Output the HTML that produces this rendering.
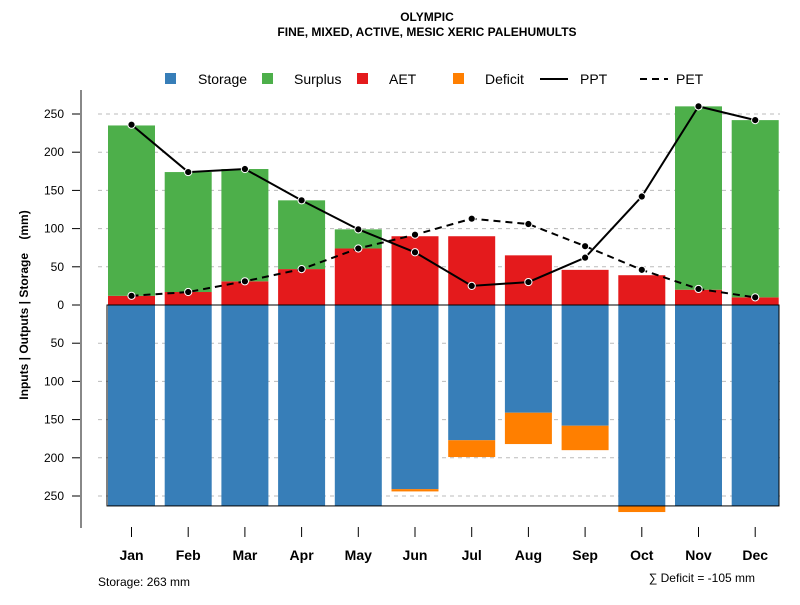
<!DOCTYPE html>
<html><head><meta charset="utf-8"><style>
body{margin:0;background:#fff}
svg{font-family:"Liberation Sans",Arial,sans-serif}
</style></head><body>
<svg id="c" width="800" height="600" xmlns="http://www.w3.org/2000/svg">
<text x="427" y="21" text-anchor="middle" font-size="12" font-weight="bold">OLYMPIC</text>
<text x="427" y="36" text-anchor="middle" font-size="12" font-weight="bold">FINE, MIXED, ACTIVE, MESIC XERIC PALEHUMULTS</text>
<g font-size="14">
<rect x="165" y="73" width="11" height="11" fill="#377eb8"/>
<text x="198" y="84">Storage</text>
<rect x="262" y="73" width="11" height="11" fill="#4daf4a"/>
<text x="294" y="84">Surplus</text>
<rect x="357" y="73" width="11" height="11" fill="#e41a1c"/>
<text x="389" y="84">AET</text>
<rect x="453" y="73" width="11" height="11" fill="#ff7f00"/>
<text x="485" y="84">Deficit</text>
<line x1="540" y1="79" x2="568" y2="79" stroke="#000" stroke-width="2"/>
<text x="580" y="84">PPT</text>
<line x1="640" y1="79" x2="668" y2="79" stroke="#000" stroke-width="2" stroke-dasharray="7,5"/>
<text x="676" y="84">PET</text>
</g>
<g id="grid"></g><g id="bars"></g><g id="lines"></g><g id="axes"></g>
<text transform="translate(28,305) rotate(-90)" text-anchor="middle" font-size="12" font-weight="bold" style="white-space:pre">Inputs | Outputs | Storage    (mm)</text>
<text x="98" y="586" font-size="12">Storage: 263 mm</text>
<text x="755" y="582" text-anchor="end" font-size="12">∑ Deficit = -105 mm</text>
</svg>
<script>
const months=["Jan","Feb","Mar","Apr","May","Jun","Jul","Aug","Sep","Oct","Nov","Dec"];
const ppt=[236,174,178,137,99,69,25,30,62,142,260,242];
const pet=[12,17,31,47,74,92,113,106,77,46,21,10];
const aet=[12,17,31,47,74,90,90,65,46,39,20,10];
const surplus=[223,157,147,90,25,0,0,0,0,0,240,232];
const storage=[263,263,263,263,263,241,177,141,158,263,263,263];
const deficit=[0,0,0,0,0,3,22,41,32,8,0,0];
const yTicks=[250,200,150,100,50,0,50,100,150,200,250];
const yTickVals=[250,200,150,100,50,0,-50,-100,-150,-200,-250];
const capacity=263;
const NS="http://www.w3.org/2000/svg";
const X=i=>131.5+i*56.7;
const Y=v=>305-v*0.764;
const BW=47;
function mk(parent,tag,attrs){const e=document.createElementNS(NS,tag);for(const k in attrs)e.setAttribute(k,attrs[k]);document.getElementById(parent).appendChild(e);return e;}
yTickVals.forEach((v,i)=>{
  if(v!==0){const g=mk("grid","line",{x1:98,x2:780,y1:Y(v),y2:Y(v),stroke:"#bbb","stroke-dasharray":"4,4"});
  
  }
  const t=mk("axes","line",{x1:72,x2:81,y1:Y(v),y2:Y(v),stroke:"#000"});
  
  
  const l=mk("axes","text",{x:64,y:Y(v)+4,"text-anchor":"end","font-size":"12"});l.textContent=yTicks[i];
  
  
});
months.forEach((m,i)=>{
  const x=X(i)-BW/2;
  const a=mk("bars","rect",{x:x,width:BW,y:Y(aet[i]),height:aet[i]*0.764,fill:"#e41a1c"});
  
  
  const s=mk("bars","rect",{x:x,width:BW,y:Y(aet[i]+surplus[i]),height:surplus[i]*0.764,fill:"#4daf4a"});
  
  
  const st=mk("bars","rect",{x:x,width:BW,y:Y(0),height:storage[i]*0.764,fill:"#377eb8"});
  
  
  const d=mk("bars","rect",{x:x,width:BW,y:Y(-storage[i]),height:deficit[i]*0.764,fill:"#ff7f00"});
  
  
  const t=mk("axes","line",{x1:X(i),x2:X(i),y1:527,y2:537,stroke:"#000"});
  
  
  const l=mk("axes","text",{x:X(i),y:560,"text-anchor":"middle","font-size":"14","font-weight":"bold"});l.textContent=m;
  
  
});
const box=mk("bars","rect",{x:107,y:Y(0),width:672,height:capacity*0.764,fill:"none",stroke:"#000","stroke-width":1});


const ax=mk("axes","line",{x1:81,x2:81,y1:90,y2:528,stroke:"#888","stroke-width":2});


function series(arr,name,dash){
  const p=mk("lines","polyline",{points:arr.map((v,i)=>X(i)+","+Y(v)).join(" "),fill:"none",stroke:"#000","stroke-width":2,"stroke-dasharray":dash});
  
  
  arr.forEach((v,i)=>{const c=mk("lines","circle",{cx:X(i),cy:Y(v),r:3.6,fill:"#000",stroke:"#fff","stroke-width":1});
  
  });
}
series(pet,"pet","7,5");
series(ppt,"ppt","none");
</script>
</body></html>
